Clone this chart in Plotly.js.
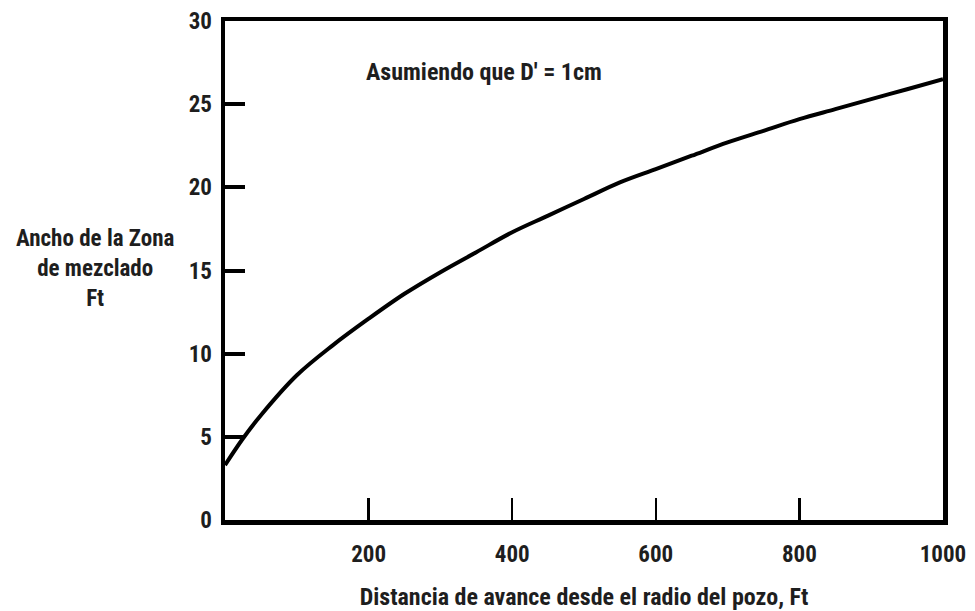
<!DOCTYPE html>
<html>
<head>
<meta charset="utf-8">
<script src="https://cdn.plot.ly/plotly-3.0.1.min.js"></script>
<style>html,body{margin:0;padding:0;background:#fff;}#chart{width:975px;height:611px;}</style>
</head>
<body>
<div id="chart"></div>
<script>
// Distance (ft) and mixing-zone width (ft)
const distance = [0, 25, 50, 100, 150, 200, 250, 300, 350, 400, 450, 500, 550, 600, 650, 700, 750, 800, 850, 900, 950, 1000];
const zoneWidth = [3.3, 4.9, 6.3, 8.7, 10.5, 12.1, 13.6, 14.9, 16.1, 17.3, 18.3, 19.3, 20.3, 21.1, 21.9, 22.7, 23.4, 24.1, 24.7, 25.3, 25.9, 26.5];
const xTicks = [200, 400, 600, 800, 1000];
const yTicks = [0, 5, 10, 15, 20, 25, 30];

const FONT = '"Liberation Sans Narrow", "Roboto Condensed", "Liberation Sans", Arial, sans-serif';
const TXT = '#1e1e1e';

const trace = {
  x: distance, y: zoneWidth, type: 'scatter', mode: 'lines',
  line: {color: '#000', width: 4, shape: 'spline', smoothing: 1},
  hoverinfo: 'skip'
};

const layout = {
  width: 975, height: 611,
  margin: {l: 225, r: 32, t: 21, b: 91},
  paper_bgcolor: '#fff', plot_bgcolor: '#fff',
  showlegend: false,
  font: {family: FONT, color: TXT, size: 22, weight: 'bold'},
  xaxis: {
    range: [0, 1000], tickvals: xTicks, ticktext: xTicks.map(String),
    ticks: 'inside', ticklen: 22, tickwidth: 2.5, tickcolor: '#000',
    showline: true, linecolor: '#000', linewidth: 4.5, mirror: true,
    showgrid: false, zeroline: false, ticklabelstandoff: 10,
    tickfont: {family: FONT, size: 23, color: TXT, weight: 'bold'},
    title: {text: 'Distancia de avance desde el radio del pozo, Ft', font: {family: FONT, size: 24, color: TXT, weight: 'bold'}, standoff: 24}
  },
  yaxis: {
    range: [0, 30], tickvals: yTicks, ticktext: yTicks.map(String),
    ticks: 'inside', ticklen: 20, tickwidth: 4, tickcolor: '#000',
    showline: true, linecolor: '#000', linewidth: 4.5, mirror: true,
    showgrid: false, zeroline: false, ticklabelstandoff: 4,
    tickfont: {family: FONT, size: 23, color: TXT, weight: 'bold'}
  },
  annotations: [
    {xref: 'paper', yref: 'paper', x: 0.361, y: 0.898, xanchor: 'center', yanchor: 'middle',
     text: "Asumiendo que D' = 1cm", showarrow: false, font: {family: FONT, size: 24, color: TXT, weight: 'bold'}},
    {xref: 'paper', yref: 'paper', x: -0.181, y: 0.505, xanchor: 'center', yanchor: 'middle',
     text: 'Ancho de la Zona<br>de mezclado<br>Ft', showarrow: false, align: 'center',
     font: {family: FONT, size: 23, color: TXT, weight: 'bold'}}
  ]
};

Plotly.newPlot('chart', [trace], layout, {staticPlot: true, displayModeBar: false});
</script>
</body>
</html>
